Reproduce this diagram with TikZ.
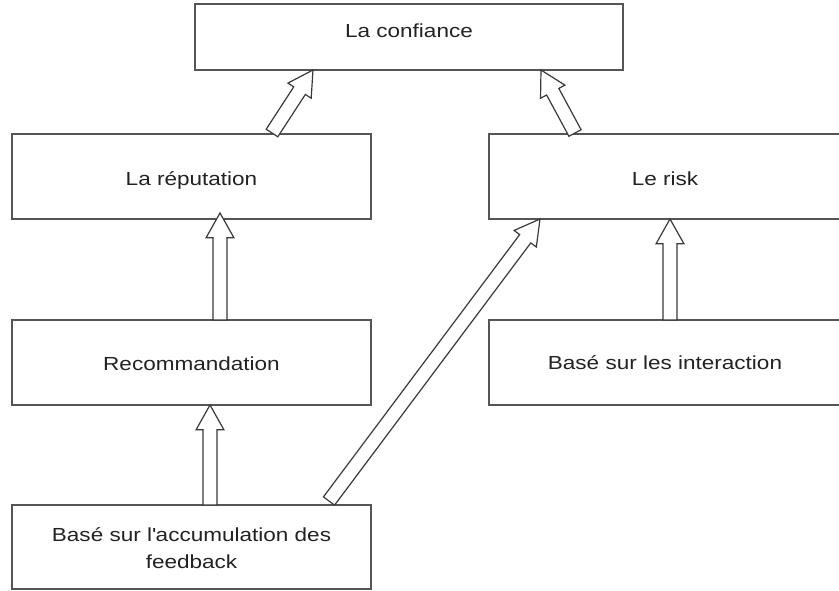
\documentclass[tikz,border=0pt]{standalone}
\usepackage{fontspec}
\setmainfont{Liberation Sans}[FakeStretch=1.19]
\usetikzlibrary{calc,fit}

\definecolor{boxline}{HTML}{555555}
\definecolor{arrowink}{HTML}{3A3A3A}
\definecolor{ink}{HTML}{222222}

% hollow block arrow: shaft half width, head half width, head length
\newcommand{\shafthalf}{5.2pt}
\newcommand{\headhalf}{10.4pt}
\newcommand{\headlen}{18.5pt}
% \hollowarrow{tail}{tip}
\newcommand{\hollowarrow}[2]{%
  \coordinate (#1-#2-h) at ($(#2)!\headlen!(#1)$);
  \draw[arrowline]
    ($(#1)!\shafthalf!90:(#2)$) --
    ($(#1-#2-h)!\shafthalf!90:(#2)$) --
    ($(#1-#2-h)!\headhalf!90:(#2)$) --
    (#2) --
    ($(#1-#2-h)!\headhalf!-90:(#2)$) --
    ($(#1-#2-h)!\shafthalf!-90:(#2)$) --
    ($(#1)!\shafthalf!-90:(#2)$) -- cycle;%
}

\tikzset{
  box/.style={rectangle, draw=boxline, line width=1.2pt, fill=white, inner sep=0pt},
  boxtext/.style={text=ink, font=\fontsize{14.2pt}{20pt}\selectfont,
    inner sep=0pt, anchor=base, align=center},
  arrowline/.style={draw=arrowink, line width=0.9pt, fill=white, line join=miter},
}

\begin{document}
\begin{tikzpicture}[x=0.75pt,y=-0.75pt]
\useasboundingbox (0,0) rectangle (839,591);
\fill[white] (0,0) rectangle (839,591);
\clip (0,0) rectangle (839,591);

% boxes
\node[box, fit={(195,4) (623,70)}]    (conf)  {};
\node[box, fit={(12,134) (371,219)}]  (rep)   {};
\node[box, fit={(489,134) (848,219)}] (risk)  {};
\node[box, fit={(12,320) (371,405)}]  (rec)   {};
\node[box, fit={(489,320) (848,405)}] (inter) {};
\node[box, fit={(12,505) (371,589)}]  (fb)    {};

% box texts (base anchor = baseline of the last line)
\node[boxtext] (confT)  at (409,38)    {La confiance};
\node[boxtext] (repT)   at (191.5,186) {La réputation};
\node[boxtext] (riskT)  at (665,186)   {Le risk};
\node[boxtext] (recT)   at (191.5,371) {Recommandation};
\node[boxtext] (interT) at (665,370)   {Basé sur les interaction};
\node[boxtext] (fbT)    at (191.5,568) {Basé sur l\textquotesingle accumulation des\\feedback};

% arrow ends on the box borders
\coordinate (repTop)   at (272,133);
\coordinate (confInL)  at (313,70);
\coordinate (riskTop)  at (575,133);
\coordinate (confInR)  at (541,70);
\coordinate (recTop)   at (220,320);
\coordinate (repBot)   at (220,213);
\coordinate (fbTopL)   at (210,505);
\coordinate (recBot)   at (210,405);
\coordinate (interTop) at (670,320);
\coordinate (riskBot)  at (670,219);
\coordinate (fbTopR)   at (329,501);
\coordinate (riskBotL) at (540,219);

% arrows
\hollowarrow{repTop}{confInL}
\hollowarrow{riskTop}{confInR}
\hollowarrow{recTop}{repBot}
\hollowarrow{fbTopL}{recBot}
\hollowarrow{interTop}{riskBot}
\hollowarrow{fbTopR}{riskBotL}
\end{tikzpicture}
\end{document}
